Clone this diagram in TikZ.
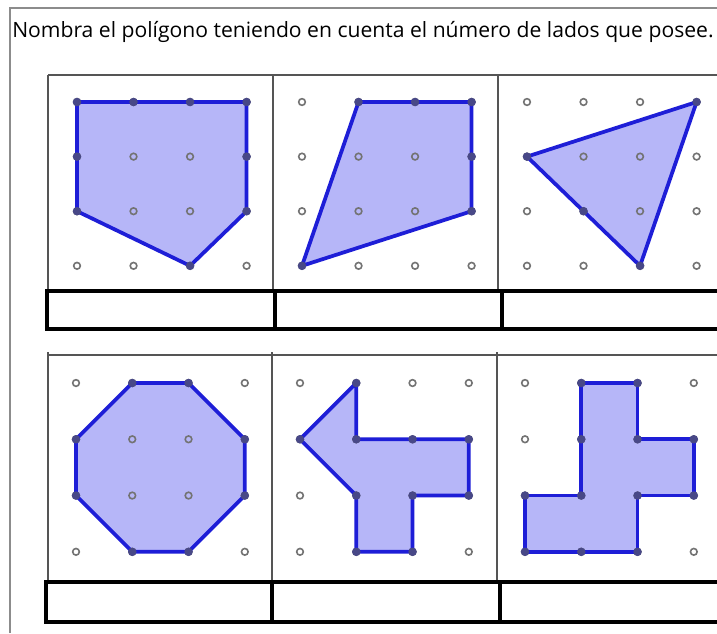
\documentclass[tikz,border=0pt]{standalone}
\usepackage{fontspec}
\setmainfont{Open Sans}
\definecolor{pfill}{RGB}{182,182,248}
\definecolor{pline}{RGB}{30,30,215}
\definecolor{ringc}{RGB}{115,115,115}
\definecolor{vdotc}{RGB}{72,72,135}
\definecolor{gridc}{RGB}{85,85,85}
\definecolor{framec}{RGB}{140,140,140}
\tikzset{
  polyfill/.style={fill=pfill},
  polyline/.style={draw=pline,line width=2.8pt,line join=round},
  ring/.style={draw=ringc,line width=1.2pt},
  vdot/.style={fill=vdotc},
  cellline/.style={draw=gridc,line width=0.9pt},
  boxline/.style={draw=black,line width=2.6pt},
  frameline/.style={draw=framec,line width=0.8pt}
}
\newcommand{\dotgrid}{%
  \foreach \i in {0,...,3}{\foreach \j in {0,...,3}{\draw[ring] (\i,\j) circle[radius=2.5pt];}}}
\begin{document}
\begin{tikzpicture}[x=0.75pt,y=-0.75pt]
\useasboundingbox (0,0) rectangle (717,633);
\fill[white] (0,0) rectangle (717,633);
% page frame
\draw[frameline] (10,633) -- (10,8) -- (717,8);
% title
\node[anchor=base west,inner sep=0pt] (title) at (12,37)
  {\resizebox{526pt}{\height}{\fontsize{15.8}{18}\selectfont Nombra el polígono teniendo en cuenta el número de lados que posee.}};
% row 1 cells
\draw[cellline] (48,75) -- (717,75);
\draw[cellline] (48,75) -- (48,291);
\draw[cellline] (273,75) -- (273,291);
\draw[cellline] (498,75) -- (498,291);
% row 2 cells
\draw[cellline] (47,355) -- (717,355);
\draw[cellline] (48,352) -- (48,582);
\draw[cellline] (272,352) -- (272,582);
\draw[cellline] (497,352) -- (497,582);
% answer boxes
\draw[boxline] (717,291) -- (47,291) -- (47,329) -- (717,329);
\draw[boxline] (275,291) -- (275,329);
\draw[boxline] (502,291) -- (502,329);
\draw[boxline] (717,582) -- (46,582) -- (46,622) -- (717,622);
\draw[boxline] (272,582) -- (272,622);
\draw[boxline] (500,582) -- (500,622);

% ---- panel 1: pentagon
\begin{scope}[shift={(77,102)},x=42.4pt,y=-40.95pt]
  \fill[polyfill] (0,0) -- (3,0) -- (3,2) -- (2,3) -- (0,2) -- cycle;
  \dotgrid
  \draw[polyline] (0,0) -- (3,0) -- (3,2) -- (2,3) -- (0,2) -- cycle;
  \foreach \p in {(0,0),(1,0),(2,0),(3,0),(3,1),(3,2),(2,3),(0,2),(0,1)} \fill[vdot] \p circle[radius=3.2pt];
\end{scope}
% ---- panel 2: quadrilateral
\begin{scope}[shift={(302,102)},x=42.4pt,y=-40.95pt]
  \fill[polyfill] (1,0) -- (3,0) -- (3,2) -- (0,3) -- cycle;
  \dotgrid
  \draw[polyline] (1,0) -- (3,0) -- (3,2) -- (0,3) -- cycle;
  \foreach \p in {(1,0),(2,0),(3,0),(3,1),(3,2),(0,3)} \fill[vdot] \p circle[radius=3.2pt];
\end{scope}
% ---- panel 3: triangle
\begin{scope}[shift={(527,102)},x=42.4pt,y=-40.95pt]
  \fill[polyfill] (0,1) -- (3,0) -- (2,3) -- cycle;
  \dotgrid
  \draw[polyline] (0,1) -- (3,0) -- (2,3) -- cycle;
  \foreach \p in {(0,1),(3,0),(2,3),(1,2)} \fill[vdot] \p circle[radius=3.2pt];
\end{scope}
% ---- panel 4: octagon
\begin{scope}[shift={(76,383)},x=42.2pt,y=-42.2pt]
  \fill[polyfill] (1,0) -- (2,0) -- (3,1) -- (3,2) -- (2,3) -- (1,3) -- (0,2) -- (0,1) -- cycle;
  \dotgrid
  \draw[polyline] (1,0) -- (2,0) -- (3,1) -- (3,2) -- (2,3) -- (1,3) -- (0,2) -- (0,1) -- cycle;
  \foreach \p in {(1,0),(2,0),(3,1),(3,2),(2,3),(1,3),(0,2),(0,1)} \fill[vdot] \p circle[radius=3.2pt];
\end{scope}
% ---- panel 5: arrow shape
\begin{scope}[shift={(300,383)},x=42.2pt,y=-42.2pt]
  \fill[polyfill] (1,0) -- (1,1) -- (3,1) -- (3,2) -- (2,2) -- (2,3) -- (1,3) -- (1,2) -- (0,1) -- cycle;
  \dotgrid
  \draw[polyline] (1,0) -- (1,1) -- (3,1) -- (3,2) -- (2,2) -- (2,3) -- (1,3) -- (1,2) -- (0,1) -- cycle;
  \foreach \p in {(1,0),(1,1),(2,1),(3,1),(3,2),(2,2),(2,3),(1,3),(1,2),(0,1)} \fill[vdot] \p circle[radius=3.2pt];
\end{scope}
% ---- panel 6: cross-like shape
\begin{scope}[shift={(525,383)},x=42.2pt,y=-42.2pt]
  \fill[polyfill] (1,0) -- (2,0) -- (2,1) -- (3,1) -- (3,2) -- (2,2) -- (2,3) -- (0,3) -- (0,2) -- (1,2) -- cycle;
  \dotgrid
  \draw[polyline] (1,0) -- (2,0) -- (2,1) -- (3,1) -- (3,2) -- (2,2) -- (2,3) -- (0,3) -- (0,2) -- (1,2) -- cycle;
  \foreach \p in {(1,0),(2,0),(2,1),(3,1),(3,2),(2,2),(2,3),(1,3),(0,3),(0,2),(1,2),(1,1)} \fill[vdot] \p circle[radius=3.2pt];
\end{scope}
\end{tikzpicture}
\end{document}
